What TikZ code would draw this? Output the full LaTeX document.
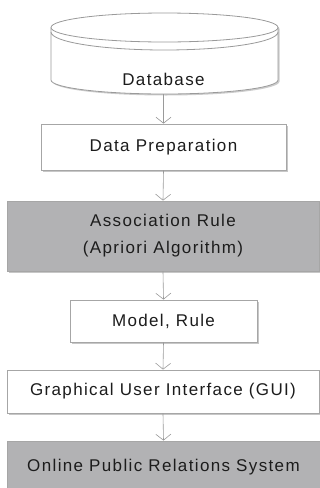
\documentclass[tikz,border=0pt]{standalone}
\usepackage{fontspec}
\setmainfont[LetterSpace=8]{Liberation Sans}
\usetikzlibrary{arrows.meta,shadows}
\definecolor{edgegray}{HTML}{A6A6A6}
\definecolor{linegray}{HTML}{9A9A9A}
\definecolor{fillgray}{HTML}{B2B2B4}
\definecolor{txt}{HTML}{1C1C1C}
\begin{document}
\begin{tikzpicture}[x=1pt,y=-1pt,
  box/.style={draw=edgegray,line width=0.8pt,fill=white,text=txt,
    font=\fontsize{17}{27}\selectfont,align=center,inner sep=0pt,
    drop shadow={shadow xshift=1.5pt,shadow yshift=-1.5pt,fill=black!22,opacity=1}},
  graybox/.style={box,fill=fillgray},
  conn/.style={draw=linegray,line width=0.6pt,-{Straight Barb[length=6pt,width=15pt,line width=0.6pt]}}]
\useasboundingbox (0,0) rectangle (320,488);
\clip (0,0) rectangle (320,488);
% cylinder shadow
\fill[black!20,shift={(1.5,1.5)}] (51,27.5) -- (51,80)
  arc[start angle=180,end angle=0,x radius=113.5,y radius=14] -- (278,27.5)
  arc[start angle=0,end angle=-180,x radius=113.5,y radius=14.5] -- cycle;
% cylinder body
\draw[draw=linegray,fill=white,line width=0.8pt] (51,27.5) -- (51,80)
  arc[start angle=180,end angle=0,x radius=113.5,y radius=14] -- (278,27.5)
  arc[start angle=0,end angle=-180,x radius=113.5,y radius=14.5] -- cycle;
\draw[draw=linegray,line width=0.8pt] (51,27.5)
  arc[start angle=180,end angle=0,x radius=113.5,y radius=14.5];
\draw[draw=linegray,line width=0.8pt] (51,32)
  arc[start angle=180,end angle=0,x radius=113.5,y radius=18];
\node[text=txt,font=\fontsize{17}{20}\selectfont] (db) at (163.5,79) {Database};
\coordinate (dbbot) at (163.5,94);
% boxes
\node[box,minimum width=245pt,minimum height=46pt] (dp) at (163.5,147) {Data Preparation};
\node[graybox,minimum width=312pt,minimum height=70pt] (ar) at (163,236)
  {Association Rule\\(Apriori Algorithm)};
\node[box,minimum width=187pt,minimum height=42pt] (mr) at (163.5,321) {Model, Rule};
\node[box,minimum width=312pt,minimum height=43pt] (gui) at (163,391.5) {Graphical User Interface (GUI)};
\node[graybox,minimum width=313pt,minimum height=52pt] (ops) at (163.5,467) {Online Public Relations System};
% connectors
\draw[conn] (dbbot) -- (dp.north);
\draw[conn] (dp.south) -- (ar.north);
\draw[conn] (ar.south) -- (mr.north);
\draw[conn] (mr.south) -- (gui.north);
\draw[conn] (gui.south) -- (ops.north);
\end{tikzpicture}
\end{document}
